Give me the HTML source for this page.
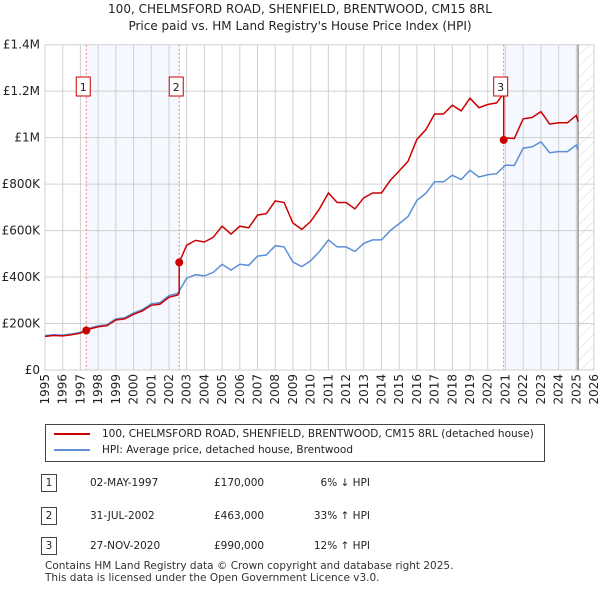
<!DOCTYPE html>
<html><head><meta charset="utf-8">
<style>
body{margin:0;background:#fff;font-family:"DejaVu Sans","Liberation Sans",sans-serif;}
#wrap{position:relative;width:600px;height:590px;overflow:hidden}
.t{position:absolute;font-size:12px;color:#222}
</style></head><body>
<div id="wrap">
<div class="t" style="left:0;width:600px;top:1px;text-align:center;font-size:12px;line-height:17px">100, CHELMSFORD ROAD, SHENFIELD, BRENTWOOD, CM15 8RL<br>Price paid vs. HM Land Registry's House Price Index (HPI)</div>
<svg id="chart" width="600" height="420" style="position:absolute;left:0;top:0;font-family:'DejaVu Sans',sans-serif"></svg>
<div style="position:absolute;left:45px;top:424px;width:500px;height:38px;border:1px solid #444;box-sizing:border-box">
 <div style="position:absolute;left:8px;top:3px;font-size:10.5px;color:#222;white-space:nowrap"><span style="display:inline-block;width:36px;height:2px;background:#cc0000;vertical-align:middle;margin-right:12px"></span>100, CHELMSFORD ROAD, SHENFIELD, BRENTWOOD, CM15 8RL (detached house)</div>
 <div style="position:absolute;left:8px;top:19px;font-size:10.5px;color:#222;white-space:nowrap"><span style="display:inline-block;width:36px;height:2px;background:#5b8fd6;vertical-align:middle;margin-right:12px"></span>HPI: Average price, detached house, Brentwood</div>
</div>
<div id="tbl"></div>
<div class="t" style="left:45px;top:560px;font-size:10.5px;line-height:12px;color:#333">Contains HM Land Registry data © Crown copyright and database right 2025.<br>This data is licensed under the Open Government Licence v3.0.</div>
</div>
<script>
const hpiYears=[1995,1995.5,1996,1996.5,1997,1997.5,1998,1998.5,1999,1999.5,2000,2000.5,2001,2001.5,2002,2002.5,2003,2003.5,2004,2004.5,2005,2005.5,2006,2006.5,2007,2007.5,2008,2008.5,2009,2009.5,2010,2010.5,2011,2011.5,2012,2012.5,2013,2013.5,2014,2014.5,2015,2015.5,2016,2016.5,2017,2017.5,2018,2018.5,2019,2019.5,2020,2020.5,2021,2021.5,2022,2022.5,2023,2023.5,2024,2024.5,2025,2025.1];
const hpiValues=[148,152,150,155,162,180,190,195,220,225,245,260,285,290,320,330,395,410,405,420,455,430,455,450,490,495,535,530,465,445,470,510,560,530,530,510,545,560,560,600,630,660,730,760,810,810,838,820,860,830,840,845,882,880,955,960,982,935,940,940,968,945];
const saleYears=[1997.33,2002.58,2020.9];
const salePrices=[170,463,990];
const saleLabels=["1","2","3"];
const yTicks=[0,200,400,600,800,1000,1200,1400];
const yTickLabels=["£0","£200K","£400K","£600K","£800K","£1M","£1.2M","£1.4M"];
const tableDates=["02-MAY-1997","31-JUL-2002","27-NOV-2020"];
const tablePrices=["£170,000","£463,000","£990,000"];
const tableHpi=["6% ↓ HPI","33% ↑ HPI","12% ↑ HPI"];

const X0=45,X1=594,Y0=370,Y1=44.7;
const xs=y=>X0+(y-1995)/(2026-1995)*(X1-X0);
const ys=v=>Y0-v/1400*(Y0-Y1);
const NS="http://www.w3.org/2000/svg";
const svg=document.getElementById('chart');
function mk(t,a,p){const e=document.createElementNS(NS,t);for(const k in a)e.setAttribute(k,a[k]);(p||svg).appendChild(e);return e;}
function hpiAt(y){for(let i=0;i<hpiYears.length-1;i++){if(y>=hpiYears[i]&&y<=hpiYears[i+1]){const f=(y-hpiYears[i])/(hpiYears[i+1]-hpiYears[i]);return hpiValues[i]+f*(hpiValues[i+1]-hpiValues[i]);}}return hpiValues[hpiValues.length-1];}
let r=mk('rect',{x:xs(saleYears[0]),y:Y1,width:xs(saleYears[1])-xs(saleYears[0]),height:Y0-Y1,fill:'#f5f8fe'});

r=mk('rect',{x:xs(saleYears[2]),y:Y1,width:xs(2025.1)-xs(saleYears[2]),height:Y0-Y1,fill:'#f5f8fe'});

const defs=mk('defs',{});
const pat=mk('pattern',{id:'hatch',width:8,height:8,patternUnits:'userSpaceOnUse',patternTransform:'rotate(45)'},defs);
mk('line',{x1:0,y1:0,x2:0,y2:8,stroke:'#d8d8d8','stroke-width':1},pat);
r=mk('rect',{x:xs(2025.1),y:Y1,width:X1-xs(2025.1),height:Y0-Y1,fill:'url(#hatch)'});

for(let y=1995;y<=2026;y++){const l=mk('line',{x1:xs(y),x2:xs(y),y1:Y1,y2:Y0,stroke:'#d0d0d0','stroke-width':1});

const t=mk('text',{x:0,y:0,'font-size':12,fill:'#222','text-anchor':'end',transform:`translate(${xs(y)+4},${Y0+4}) rotate(-90)`});t.textContent=y;
}
yTicks.forEach((v,i)=>{const l=mk('line',{x1:X0,x2:X1,y1:ys(v),y2:ys(v),stroke:'#d0d0d0','stroke-width':1});

const t=mk('text',{x:40,y:ys(v)+4,'font-size':12,fill:'#222','text-anchor':'end'});t.textContent=yTickLabels[i];
});
let ln=mk('line',{x1:xs(2025.1),x2:xs(2025.1),y1:Y1,y2:Y0,stroke:'#999','stroke-width':1.5});

saleYears.forEach((s,i)=>{const l=mk('line',{x1:xs(s),x2:xs(s),y1:Y1,y2:Y0,stroke:'#f08080','stroke-width':1,'stroke-dasharray':'2,2'});
});
let d=hpiYears.map((y,i)=>(i?'L':'M')+xs(y).toFixed(1)+','+ys(hpiValues[i]).toFixed(1)).join('');
let p=mk('path',{d:d,fill:'none',stroke:'#5b8fd6','stroke-width':1.5});

const ratios=saleYears.map((s,i)=>salePrices[i]/hpiAt(s));
function ratioAt(y){let k=ratios[0];for(let i=0;i<saleYears.length;i++)if(y>=saleYears[i])k=ratios[i];return k;}
let pts=[];
const allY=hpiYears.concat(saleYears).sort((a,b)=>a-b);
allY.forEach(y=>{const idx=saleYears.indexOf(y);
 if(idx>0){pts.push([y,hpiAt(y)*ratios[idx-1]]);}
 pts.push([y,hpiAt(y)*ratioAt(y)]);});
d=pts.map((q,i)=>(i?'L':'M')+xs(q[0]).toFixed(1)+','+ys(q[1]).toFixed(1)).join('');
p=mk('path',{d:d,fill:'none',stroke:'#cc0000','stroke-width':1.5});

saleYears.forEach((s,i)=>{const c=mk('circle',{cx:xs(s),cy:ys(salePrices[i]),r:4,fill:'#cc0000'});

const g=mk('rect',{x:xs(s)-10,y:77,width:14,height:19,fill:'#fff',stroke:'#cc0000','stroke-width':1});

const t=mk('text',{x:xs(s)-3,y:91,'font-size':11,'text-anchor':'middle',fill:'#222'});t.textContent=saleLabels[i];
});
const tbl=document.getElementById('tbl');const rowsY=[474,507,537];
saleLabels.forEach((l,i)=>{const row=document.createElement('div');


row.style.cssText=`position:absolute;left:0;top:${rowsY[i]}px;width:600px;height:20px;font-size:10.5px;color:#222`;
row.innerHTML=`<span style="position:absolute;left:41px;top:0;width:16px;height:18px;border:1px solid #444;box-sizing:border-box;text-align:center;line-height:16px">${l}</span><span style="position:absolute;left:90px;top:3px">${tableDates[i]}</span><span style="position:absolute;left:214px;top:3px">${tablePrices[i]}</span><span style="position:absolute;left:300px;width:70px;text-align:right;top:3px">${tableHpi[i]}</span>`;
tbl.appendChild(row);});
</script>
</body></html>
